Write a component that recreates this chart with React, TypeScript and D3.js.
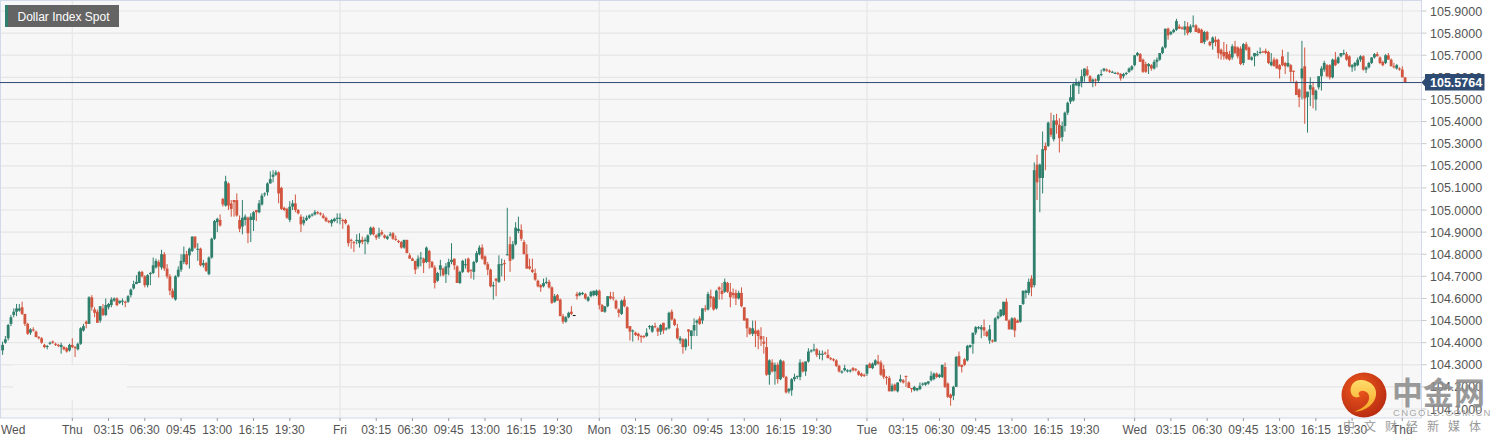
import React from "react";
import * as d3 from "d3";

type Bar = [number, number, number, number]; // open, high, low, close

const WIDTH = 1498;
const HEIGHT = 444;

const wedBars: Bar[] = [
  [104.365,104.405,104.345,104.39],[104.40,104.43,104.395,104.415],[104.42,104.485,104.41,104.48],[104.485,104.525,104.475,104.515],[104.525,104.555,104.515,104.54],
  [104.54,104.575,104.52,104.555],[104.545,104.575,104.54,104.555],[104.56,104.585,104.525,104.53],[104.53,104.53,104.475,104.485],[104.485,104.49,104.435,104.44],
  [104.445,104.465,104.435,104.46],[104.46,104.47,104.45,104.455],[104.45,104.455,104.425,104.425],[104.425,104.43,104.415,104.42],[104.42,104.425,104.395,104.40],
  [104.39,104.395,104.375,104.38],[104.38,104.39,104.37,104.385],[104.395,104.405,104.39,104.40],[104.405,104.41,104.395,104.40],[104.395,104.40,104.385,104.39],
  [104.39,104.395,104.38,104.385],[104.38,104.40,104.35,104.39],[104.38,104.385,104.365,104.37],[104.375,104.38,104.355,104.36],[104.365,104.395,104.36,104.39],
];

const thuBars: Bar[] = [
  [104.39,104.42,104.375,104.38],[104.38,104.385,104.335,104.375],[104.37,104.40,104.365,104.395],[104.395,104.47,104.39,104.465],[104.455,104.485,104.45,104.475],
  [104.495,104.50,104.465,104.485],[104.485,104.61,104.485,104.605],[104.605,104.615,104.545,104.56],[104.55,104.56,104.515,104.535],[104.54,104.55,104.49,104.49],
  [104.50,104.565,104.49,104.565],[104.555,104.575,104.52,104.525],[104.525,104.60,104.52,104.57],[104.56,104.58,104.55,104.575],[104.57,104.605,104.56,104.595],
  [104.59,104.605,104.585,104.60],[104.60,104.605,104.565,104.57],[104.58,104.59,104.575,104.59],[104.585,104.60,104.57,104.59],[104.585,104.59,104.56,104.58],
  [104.585,104.615,104.58,104.61],[104.615,104.645,104.605,104.64],[104.645,104.68,104.64,104.665],[104.665,104.705,104.665,104.675],[104.67,104.725,104.67,104.72],
  [104.72,104.725,104.695,104.70],[104.70,104.705,104.65,104.66],[104.66,104.71,104.65,104.705],[104.71,104.72,104.66,104.715],[104.715,104.785,104.71,104.75],
  [104.74,104.78,104.735,104.77],[104.765,104.775,104.695,104.745],[104.74,104.82,104.73,104.80],[104.80,104.81,104.725,104.735],[104.735,104.755,104.69,104.70],
  [104.70,104.71,104.615,104.635],[104.635,104.645,104.60,104.605],[104.595,104.705,104.59,104.70],[104.70,104.745,104.695,104.73],[104.73,104.80,104.72,104.77],
  [104.765,104.835,104.755,104.80],[104.80,104.815,104.75,104.755],[104.795,104.83,104.735,104.825],[104.815,104.88,104.81,104.88],[104.88,104.88,104.825,104.83],
  [104.82,104.85,104.77,104.825],[104.825,104.83,104.745,104.75],[104.75,104.775,104.74,104.76],[104.76,104.765,104.72,104.725],[104.71,104.79,104.705,104.785],
  [104.785,104.875,104.78,104.87],[104.87,104.955,104.865,104.95],[104.945,104.965,104.90,104.96],[104.955,104.98,104.925,104.93],[105.05,105.055,105.015,105.025],
  [105.02,105.155,105.015,105.13],[105.12,105.125,105.0,105.02],[105.03,105.045,104.97,105.005],[105.045,105.045,104.97,105.035],[105.045,105.075,104.97,104.975],
  [104.955,104.975,104.90,104.915],[104.925,105.045,104.89,104.965],[104.955,104.98,104.93,104.97],[104.965,104.97,104.85,104.895],[104.955,104.985,104.855,104.97],
  [104.955,104.995,104.905,104.99],[105.0,105.0,104.95,104.99],[104.99,105.045,104.985,105.03],[105.025,105.075,105.02,105.065],[105.07,105.08,105.06,105.075],
  [105.08,105.125,105.065,105.12],[105.12,105.175,105.12,105.14],[105.15,105.18,105.125,105.16],[105.16,105.18,105.155,105.17],[105.17,105.175,105.03,105.075],
  [105.10,105.105,105.0,105.005],[105.01,105.015,104.995,105.0],[105.005,105.01,104.96,104.965],[104.955,105.04,104.945,105.015],[105.015,105.045,105.0,105.03],
  [105.03,105.07,104.99,105.0],[105.0,105.005,104.98,104.985],[104.97,104.98,104.90,104.935],[104.94,104.97,104.93,104.955],[104.955,104.975,104.95,104.965],
  [104.965,104.98,104.96,104.975],[104.975,104.985,104.97,104.98],[104.98,105.0,104.975,104.99],[104.99,104.995,104.98,104.985],[104.985,104.99,104.975,104.98],
  [104.975,104.985,104.96,104.965],[104.965,104.97,104.945,104.95],[104.95,104.955,104.94,104.945],[104.94,104.96,104.925,104.955],[104.95,104.965,104.945,104.96],
  [104.96,104.985,104.94,104.965],
];

const friBars: Bar[] = [
  [104.96,104.985,104.935,104.965],[104.955,104.96,104.915,104.95],[104.955,104.96,104.935,104.94],[104.93,104.935,104.835,104.85],[104.865,104.87,104.825,104.86],
  [104.855,104.86,104.81,104.85],[104.86,104.89,104.845,104.865],[104.85,104.895,104.83,104.865],[104.865,104.88,104.845,104.855],[104.86,104.875,104.80,104.865],
  [104.855,104.89,104.845,104.885],[104.89,104.925,104.885,104.92],[104.92,104.925,104.885,104.89],[104.885,104.89,104.865,104.875],[104.88,104.92,104.87,104.895],
  [104.90,104.91,104.885,104.89],[104.885,104.89,104.87,104.875],[104.87,104.885,104.865,104.88],[104.885,104.90,104.88,104.89],[104.895,104.90,104.865,104.87],
  [104.87,104.885,104.86,104.865],[104.86,104.865,104.85,104.855],[104.855,104.86,104.825,104.83],[104.83,104.865,104.825,104.865],[104.865,104.865,104.805,104.805],
  [104.795,104.805,104.78,104.78],[104.78,104.785,104.77,104.77],[104.77,104.77,104.71,104.73],[104.745,104.795,104.735,104.78],[104.78,104.81,104.745,104.785],
  [104.78,104.785,104.715,104.76],[104.765,104.835,104.76,104.83],[104.815,104.82,104.735,104.765],[104.765,104.77,104.74,104.74],[104.74,104.75,104.645,104.67],
  [104.68,104.72,104.675,104.715],[104.73,104.775,104.70,104.75],[104.735,104.74,104.70,104.705],[104.71,104.76,104.67,104.745],[104.74,104.78,104.705,104.765],
  [104.765,104.85,104.755,104.775],[104.78,104.78,104.73,104.75],[104.745,104.75,104.67,104.67],[104.67,104.725,104.665,104.72],[104.72,104.775,104.715,104.77],
  [104.75,104.78,104.735,104.755],[104.78,104.785,104.715,104.72],[104.73,104.73,104.69,104.725],[104.72,104.77,104.685,104.765],[104.765,104.815,104.76,104.805],
  [104.80,104.84,104.795,104.83],[104.83,104.845,104.775,104.78],[104.79,104.795,104.75,104.755],[104.755,104.765,104.705,104.73],[104.73,104.735,104.65,104.655],
  [104.655,104.675,104.595,104.66],[104.69,104.69,104.61,104.68],[104.675,104.795,104.67,104.755],[104.75,104.78,104.70,104.755],[104.76,104.775,104.68,104.755],
  [104.795,105.01,104.795,104.80],[104.845,104.88,104.72,104.77],[104.78,104.86,104.775,104.845],[104.845,104.945,104.84,104.92],[104.905,104.97,104.895,104.915],
  [104.91,104.935,104.86,104.87],[104.855,104.865,104.80,104.80],[104.80,104.845,104.735,104.735],[104.745,104.78,104.73,104.735],[104.73,104.78,104.715,104.72],
  [104.715,104.735,104.68,104.685],[104.68,104.685,104.65,104.655],[104.66,104.665,104.63,104.65],[104.655,104.69,104.65,104.67],[104.67,104.695,104.665,104.675],
  [104.675,104.685,104.645,104.65],[104.65,104.655,104.575,104.58],[104.585,104.62,104.58,104.61],[104.615,104.62,104.59,104.59],[104.595,104.60,104.52,104.52],
  [104.52,104.53,104.485,104.495],[104.495,104.52,104.49,104.515],[104.515,104.54,104.51,104.535],[104.54,104.565,104.525,104.53],[104.525,104.525,104.525,104.525],
  [104.62,104.63,104.595,104.61],[104.615,104.63,104.61,104.625],[104.62,104.63,104.615,104.625],[104.62,104.625,104.595,104.60],[104.59,104.61,104.585,104.605],
  [104.61,104.635,104.605,104.63],[104.615,104.635,104.61,104.635],[104.615,104.64,104.61,104.635],
];

const monBars: Bar[] = [
  [104.635,104.64,104.55,104.57],[104.57,104.575,104.54,104.54],[104.54,104.565,104.535,104.565],[104.565,104.61,104.56,104.61],[104.61,104.63,104.595,104.60],
  [104.605,104.63,104.59,104.60],[104.59,104.595,104.55,104.555],[104.55,104.555,104.515,104.535],[104.53,104.595,104.525,104.59],[104.595,104.61,104.56,104.565],
  [104.56,104.565,104.465,104.465],[104.475,104.475,104.41,104.45],[104.45,104.46,104.405,104.455],[104.445,104.45,104.43,104.435],[104.44,104.445,104.41,104.43],
  [104.43,104.435,104.40,104.425],[104.43,104.435,104.42,104.425],[104.43,104.465,104.425,104.445],[104.47,104.48,104.46,104.475],[104.45,104.48,104.445,104.475],
  [104.475,104.49,104.465,104.47],[104.465,104.47,104.43,104.45],[104.45,104.485,104.435,104.48],[104.49,104.49,104.44,104.455],[104.46,104.47,104.455,104.465],
  [104.465,104.54,104.46,104.535],[104.54,104.55,104.50,104.505],[104.505,104.51,104.475,104.48],[104.465,104.485,104.415,104.42],[104.41,104.43,104.395,104.42],
  [104.415,104.42,104.35,104.38],[104.38,104.42,104.365,104.415],[104.46,104.46,104.385,104.45],[104.43,104.455,104.37,104.455],[104.455,104.51,104.43,104.48],
  [104.49,104.505,104.43,104.50],[104.51,104.52,104.48,104.485],[104.50,104.555,104.485,104.555],[104.555,104.57,104.54,104.55],[104.55,104.63,104.545,104.62],
  [104.61,104.64,104.56,104.60],[104.605,104.61,104.545,104.55],[104.555,104.64,104.55,104.635],[104.65,104.655,104.595,104.64],[104.635,104.67,104.595,104.62],
  [104.63,104.69,104.625,104.675],[104.67,104.675,104.625,104.63],[104.63,104.67,104.56,104.605],[104.625,104.645,104.60,104.615],[104.625,104.64,104.57,104.60],
  [104.60,104.635,104.595,104.625],[104.625,104.65,104.56,104.565],[104.56,104.56,104.50,104.50],[104.51,104.51,104.425,104.465],[104.465,104.47,104.435,104.44],
  [104.44,104.50,104.43,104.465],[104.455,104.50,104.38,104.44],[104.455,104.46,104.37,104.43],[104.43,104.47,104.385,104.415],[104.405,104.43,104.35,104.395],
  [104.38,104.425,104.25,104.255],[104.255,104.325,104.21,104.32],[104.31,104.325,104.265,104.27],[104.27,104.31,104.21,104.30],[104.30,104.31,104.215,104.235],
  [104.235,104.325,104.23,104.32],[104.315,104.32,104.24,104.245],[104.245,104.25,104.17,104.175],[104.18,104.195,104.17,104.19],[104.185,104.24,104.16,104.235],
  [104.235,104.26,104.225,104.245],[104.245,104.25,104.235,104.25],[104.245,104.325,104.23,104.31],[104.31,104.315,104.265,104.27],[104.27,104.315,104.25,104.315],
  [104.315,104.375,104.31,104.36],[104.36,104.37,104.355,104.365],[104.365,104.395,104.36,104.37],[104.37,104.375,104.335,104.345],[104.345,104.365,104.325,104.35],
  [104.345,104.365,104.32,104.35],[104.355,104.36,104.345,104.35],[104.345,104.37,104.33,104.33],[104.33,104.335,104.32,104.325],[104.325,104.33,104.315,104.32],
  [104.32,104.325,104.29,104.295],[104.295,104.30,104.265,104.27],[104.265,104.275,104.26,104.27],[104.275,104.30,104.27,104.285],[104.27,104.28,104.265,104.275],
  [104.27,104.28,104.265,104.275],[104.285,104.29,104.27,104.275],[104.28,104.285,104.27,104.275],[104.27,104.275,104.25,104.255],[104.26,104.265,104.245,104.25],
  [104.255,104.26,104.245,104.25],
];

const tueBars: Bar[] = [
  [104.26,104.30,104.25,104.30],[104.305,104.31,104.285,104.285],[104.285,104.31,104.28,104.305],[104.30,104.325,104.295,104.32],[104.315,104.345,104.30,104.305],
  [104.31,104.32,104.25,104.255],[104.28,104.30,104.235,104.245],[104.245,104.25,104.21,104.24],[104.24,104.25,104.18,104.18],[104.18,104.215,104.18,104.205],
  [104.21,104.215,104.18,104.185],[104.18,104.22,104.175,104.22],[104.225,104.255,104.22,104.235],[104.23,104.235,104.215,104.22],[104.25,104.25,104.20,104.245],
  [104.22,104.225,104.195,104.195],[104.195,104.195,104.175,104.19],[104.185,104.205,104.18,104.20],[104.185,104.195,104.18,104.195],[104.19,104.22,104.185,104.205],
  [104.21,104.22,104.205,104.215],[104.21,104.22,104.205,104.22],[104.215,104.225,104.21,104.225],[104.23,104.27,104.225,104.25],[104.235,104.265,104.23,104.26],
  [104.26,104.265,104.24,104.245],[104.245,104.26,104.24,104.255],[104.245,104.30,104.24,104.30],[104.29,104.31,104.195,104.20],[104.215,104.22,104.15,104.155],
  [104.165,104.17,104.115,104.15],[104.16,104.205,104.14,104.20],[104.20,104.34,104.20,104.335],[104.34,104.36,104.29,104.295],[104.30,104.30,104.265,104.29],
  [104.325,104.33,104.295,104.30],[104.32,104.39,104.315,104.385],[104.38,104.39,104.375,104.39],[104.395,104.445,104.35,104.445],[104.445,104.475,104.435,104.47],
  [104.465,104.475,104.46,104.47],[104.46,104.48,104.42,104.47],[104.47,104.505,104.43,104.455],[104.45,104.455,104.425,104.43],[104.41,104.48,104.395,104.46],
  [104.41,104.415,104.40,104.405],[104.405,104.515,104.405,104.51],[104.51,104.54,104.505,104.52],[104.52,104.55,104.515,104.55],[104.525,104.585,104.52,104.585],
  [104.585,104.60,104.50,104.50],[104.50,104.505,104.46,104.46],[104.46,104.515,104.46,104.51],[104.51,104.515,104.425,104.455],[104.50,104.505,104.49,104.49],
  [104.495,104.57,104.49,104.57],[104.575,104.635,104.57,104.635],[104.625,104.64,104.60,104.635],[104.625,104.69,104.615,104.675],[104.69,104.705,104.61,104.65],
  [104.66,105.215,104.65,105.18],[105.205,105.25,105.045,105.125],[105.145,105.21,104.99,105.205],[105.145,105.355,105.075,105.275],[105.29,105.305,105.18,105.27],
  [105.29,105.40,105.285,105.395],[105.37,105.44,105.33,105.34],[105.32,105.43,105.31,105.405],[105.405,105.435,105.345,105.385],[105.385,105.415,105.26,105.325],
  [105.33,105.40,105.31,105.38],[105.38,105.445,105.355,105.44],[105.44,105.49,105.43,105.485],[105.49,105.565,105.48,105.51],[105.495,105.575,105.49,105.57],
  [105.565,105.595,105.56,105.575],[105.56,105.585,105.525,105.575],[105.58,105.635,105.555,105.605],[105.605,105.64,105.58,105.64],[105.635,105.65,105.605,105.61],
  [105.605,105.61,105.575,105.58],[105.58,105.595,105.555,105.59],[105.59,105.595,105.56,105.585],[105.585,105.615,105.575,105.61],[105.61,105.635,105.605,105.615],
  [105.63,105.64,105.625,105.64],[105.635,105.64,105.625,105.63],[105.63,105.635,105.62,105.625],[105.625,105.63,105.62,105.625],[105.62,105.625,105.615,105.62],
  [105.62,105.625,105.61,105.615],[105.615,105.62,105.585,105.595],[105.605,105.62,105.595,105.615],[105.615,105.625,105.61,105.62],[105.625,105.645,105.62,105.64],
  [105.635,105.655,105.63,105.65],
];

const wed2Bars: Bar[] = [
  [105.655,105.70,105.65,105.70],[105.70,105.715,105.695,105.71],[105.705,105.71,105.67,105.67],[105.68,105.685,105.62,105.625],[105.66,105.67,105.62,105.625],
  [105.65,105.665,105.615,105.66],[105.655,105.66,105.63,105.64],[105.64,105.68,105.635,105.67],[105.67,105.69,105.645,105.68],[105.68,105.71,105.675,105.71],
  [105.71,105.74,105.705,105.735],[105.735,105.82,105.73,105.82],[105.82,105.825,105.77,105.79],[105.795,105.81,105.79,105.805],[105.805,105.82,105.80,105.815],
  [105.815,105.865,105.81,105.855],[105.83,105.84,105.82,105.82],[105.825,105.83,105.815,105.82],[105.815,105.855,105.79,105.83],[105.83,105.85,105.79,105.80],
  [105.805,105.84,105.80,105.83],[105.83,105.88,105.825,105.835],[105.835,105.84,105.805,105.805],[105.82,105.825,105.80,105.80],[105.815,105.82,105.755,105.755],
  [105.76,105.81,105.75,105.805],[105.805,105.81,105.765,105.77],[105.76,105.765,105.74,105.745],[105.755,105.785,105.725,105.78],[105.77,105.785,105.74,105.76],
  [105.77,105.775,105.685,105.71],[105.725,105.73,105.68,105.705],[105.715,105.76,105.68,105.695],[105.715,105.75,105.68,105.685],[105.705,105.72,105.675,105.68],
  [105.69,105.75,105.68,105.74],[105.74,105.765,105.705,105.71],[105.735,105.74,105.685,105.695],[105.73,105.74,105.655,105.66],[105.665,105.755,105.655,105.75],
  [105.75,105.76,105.72,105.725],[105.735,105.74,105.68,105.68],[105.68,105.695,105.675,105.69],[105.695,105.71,105.65,105.71],[105.70,105.72,105.695,105.705],
  [105.71,105.735,105.705,105.715],[105.717,105.72,105.71,105.715],[105.72,105.73,105.705,105.71],[105.715,105.72,105.66,105.665],[105.655,105.71,105.65,105.67],
  [105.68,105.69,105.65,105.65],[105.68,105.685,105.64,105.64],[105.655,105.66,105.595,105.635],[105.695,105.725,105.65,105.655],[105.665,105.67,105.615,105.65],
  [105.65,105.715,105.645,105.665],[105.655,105.66,105.58,105.625],[105.63,105.63,105.58,105.625],[105.58,105.585,105.52,105.52],[105.545,105.55,105.465,105.51],
  [105.595,105.765,105.50,105.64],[105.65,105.735,105.39,105.505],[105.51,105.535,105.35,105.535],[105.545,105.60,105.47,105.565],[105.555,105.58,105.46,105.52],
  [105.50,105.545,105.45,105.54],[105.555,105.605,105.545,105.605],[105.605,105.65,105.54,105.64],[105.635,105.675,105.625,105.665],[105.655,105.66,105.60,105.605],
  [105.655,105.66,105.59,105.60],[105.60,105.685,105.595,105.68],[105.68,105.715,105.65,105.655],[105.665,105.695,105.66,105.69],[105.695,105.71,105.69,105.71],
  [105.705,105.725,105.70,105.71],[105.705,105.715,105.675,105.68],[105.695,105.70,105.645,105.65],[105.645,105.66,105.625,105.655],[105.65,105.67,105.63,105.665],
  [105.655,105.69,105.65,105.68],[105.68,105.70,105.67,105.695],[105.695,105.70,105.63,105.635],[105.635,105.65,105.62,105.645],[105.645,105.67,105.64,105.665],
  [105.665,105.69,105.66,105.69],[105.69,105.71,105.685,105.705],[105.705,105.715,105.695,105.695],[105.69,105.695,105.66,105.665],[105.67,105.675,105.65,105.655],
  [105.665,105.705,105.66,105.70],[105.70,105.71,105.68,105.68],[105.68,105.685,105.65,105.65],[105.65,105.665,105.64,105.645],[105.64,105.66,105.635,105.655],
  [105.64,105.645,105.63,105.635],
];

const thu2Bars: Bar[] = [
  [105.635,105.65,105.60,105.60],[105.60,105.60,105.5764,105.5764],
];

const days = [
  { name: "Wed", first: 1, bars: wedBars },
  { name: "Thu", first: 26, bars: thuBars },
  { name: "Fri", first: 122, bars: friBars },
  { name: "Mon", first: 215, bars: monBars },
  { name: "Tue", first: 311, bars: tueBars },
  { name: "Wed", first: 407, bars: wed2Bars },
  { name: "Thu", first: 503, bars: thu2Bars },
];

const clockLabels = ["03:15", "06:30", "09:45", "13:00", "16:15", "19:30"];
const priceTicks = [105.9, 105.8, 105.7, 105.6, 105.5, 105.4, 105.3, 105.2, 105.1, 105.0, 104.9, 104.8, 104.7, 104.6, 104.5, 104.4, 104.3, 104.2, 104.1];
const lastPrice = 105.5764;

const UP = "#2f7f6d";
const DOWN = "#d2553f";
const GRID = "#e6e6e6";
const AXIS = "#d3d8ea";
const TEXT = "#555";
const FONT = "'Liberation Sans', Arial, sans-serif";

const plotRight = 1421.5;
const plotBottom = 418;

const x = d3.scaleLinear().domain([26, 503]).range([72.3, 1402.3]);
const y = d3.scaleLinear().domain([104.1, 105.9]).range([409, 11]);

export default function App() {
  const candles = days.flatMap((d) => d.bars.map((bar, j) => ({ i: d.first + j, bar })));
  const dayTicks = days.slice(1).map((d) => d.first);
  const clockTicks = days
    .slice(1, 6)
    .flatMap((d) => clockLabels.map((label, k) => ({ i: d.first + (k + 1) * 13, label })));

  return (
    <svg
      width={WIDTH}
      height={HEIGHT}
      style={{ position: "absolute", left: 0, top: 0, display: "block", background: "#fff" }}
      fontFamily={FONT}
    >
      <defs>
        <radialGradient id="logoRed" cx="40%" cy="35%" r="75%">
          <stop offset="0%" stopColor="#ee5a1e" />
          <stop offset="100%" stopColor="#b3260f" />
        </radialGradient>
        <linearGradient id="logoGold" x1="0" y1="0" x2="0" y2="1">
          <stop offset="0%" stopColor="#ffdc6a" />
          <stop offset="100%" stopColor="#f5a623" />
        </linearGradient>
        <clipPath id="plotClip">
          <rect x={0} y={0} width={plotRight} height={plotBottom} />
        </clipPath>
      </defs>

      <rect x={0} y={0} width={plotRight} height={plotBottom} fill="#f7f7f7" />

      {/* grid */}
      {priceTicks.map((p) => (
        <line key={p} x1={0} x2={plotRight} y1={y(p)} y2={y(p)} stroke={GRID} strokeWidth={1.2} />
      ))}
      {dayTicks.map((i) => (
        <line key={i} x1={x(i)} x2={x(i)} y1={0} y2={plotBottom} stroke={GRID} strokeWidth={1.2} />
      ))}
      {/* patch left over in the source image, where the grid is missing */}
      <rect x={13} y={365} width={114} height={35} fill="#f7f7f7" />

      {/* plot frame */}
      <line x1={0} x2={plotRight} y1={0.5} y2={0.5} stroke={AXIS} />
      <line x1={0.5} x2={0.5} y1={0} y2={plotBottom} stroke={AXIS} />
      <line x1={plotRight} x2={plotRight} y1={0} y2={plotBottom} stroke={AXIS} />
      <line x1={0} x2={plotRight} y1={plotBottom} y2={plotBottom} stroke={AXIS} />

      {/* candles */}
      <g clipPath="url(#plotClip)">
        {candles.map(({ i, bar: [o, h, l, c] }) => {
          const color = h === l ? "#111" : c >= o ? UP : DOWN;
          const top = y(Math.max(o, c));
          const bottom = y(Math.min(o, c));
          return (
            <g key={i} fill={color}>
              <rect x={x(i) - 0.5} width={1} y={y(h)} height={Math.max(y(l) - y(h), 1)} />
              <rect x={x(i) - 1.4} width={2.8} y={top} height={Math.max(bottom - top, 1)} />
            </g>
          );
        })}
      </g>

      {/* last price line */}
      <line x1={0} x2={plotRight} y1={y(lastPrice)} y2={y(lastPrice)} stroke="#2b4a74" strokeWidth={1} />

      {/* price axis */}
      {priceTicks.map((p) => (
        <g key={p} transform={`translate(${plotRight},${y(p)})`}>
          <line x1={0} x2={5} stroke="#c8c8c8" />
          <text x={8.5} y={4.5} fontSize={12.5} fill={TEXT}>
            {d3.format(".4f")(p)}
          </text>
        </g>
      ))}
      <path
        d={`M${plotRight},${y(lastPrice)} l3.5,-4 v-4.5 h59.5 v16.5 h-59.5 v-4 z`}
        fill="#2d4a73"
      />
      <text x={1430} y={y(lastPrice) + 4.5} fontSize={12.5} fontWeight="bold" fill="#fff">
        {d3.format(".4f")(lastPrice)}
      </text>

      {/* time axis */}
      {[...dayTicks.map((i) => ({ i, label: "" })), ...clockTicks].map(({ i }) => (
        <line key={i} x1={x(i)} x2={x(i)} y1={plotBottom} y2={plotBottom + 3} stroke="#999" />
      ))}
      <text x={1} y={434} fontSize={12} fill={TEXT}>{days[0].name}</text>
      {days.slice(1).map((d) => (
        <text key={d.first} x={x(d.first)} y={434} fontSize={12} fill={TEXT} textAnchor="middle">{d.name}</text>
      ))}
      {clockTicks.map(({ i, label }) => (
        <text key={i} x={x(i)} y={434} fontSize={12} fill={TEXT} textAnchor="middle">{label}</text>
      ))}

      {/* title tag */}
      <rect x={5} y={5} width={114} height={22} fill="#646464" />
      <rect x={5} y={5} width={3} height={22} fill={UP} />
      <text x={17.5} y={20.5} fontSize={12} fill="#fff">Dollar Index Spot</text>

      {/* watermark */}
      <circle cx={1364} cy={395} r={22.5} fill="url(#logoRed)" />
      <path
        d="M1351,393 c-2,-8 4,-14 11,-13 c9,1 15,7 14,15 c-1,9 -10,16 -22,17 c7,-3 14,-7 15,-13 c1,-5 -3,-9 -8,-8 c-3,1 -3,4 -1,5 c-3,3 -8,1 -9,-3 z"
        fill="url(#logoGold)"
      />
      <text x={1392} y={404} fontSize={31} fontWeight="bold" fill="#8f8f8f" opacity={0.9} fontFamily="'Noto Sans CJK SC'">中金网</text>
      <text x={1393} y={416} fontSize={9.5} letterSpacing={1.3} fill="#a8a8a8">CNGOLD.COM.CN</text>
      <text x={1343} y={431} fontSize={12} letterSpacing={9} fill="#999" fontFamily="'Noto Sans CJK SC'">中文财经新媒体</text>
    </svg>
  );
}
